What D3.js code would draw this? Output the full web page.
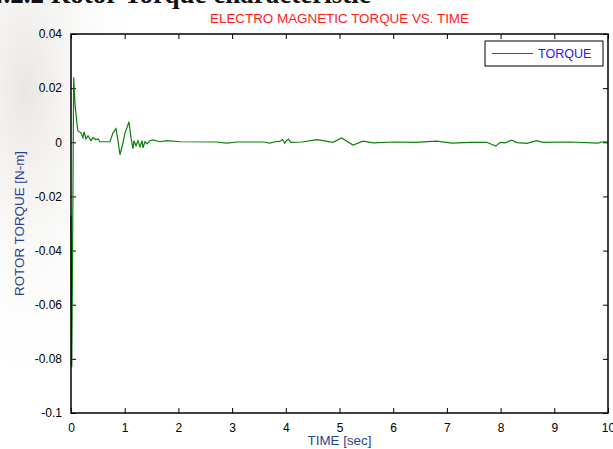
<!DOCTYPE html>
<html>
<head>
<meta charset="utf-8">
<script src="https://cdn.jsdelivr.net/npm/d3@7"></script>
<style>
  body { margin: 0; background: #fff; }
  svg { display: block; }
  .tick text { font-family: "Liberation Sans", Arial, sans-serif; font-size: 12px; fill: #000; }
</style>
</head>
<body>
<div id="chart"></div>
<script>
"use strict";

// time [sec] and torque [N-m]
var timeValues = [0, 0.015, 0.05, 0.074, 0.112, 0.13, 0.186, 0.223, 0.242, 0.279, 0.317, 0.372, 0.41, 0.466, 0.503, 0.54,
  0.726, 0.782, 0.838, 0.875, 0.912, 0.968, 1.006, 1.043, 1.08, 1.117, 1.155, 1.173, 1.21, 1.248, 1.285, 1.322, 1.341,
  1.378, 1.415, 1.471, 1.527, 1.657, 1.788, 2.03, 2.7, 2.9, 3.1, 3.6, 3.7, 3.8, 3.89, 3.94, 3.98, 4.01, 4.05, 4.09, 4.3,
  4.58, 4.88, 5.04, 5.25, 5.44, 5.63, 6.0, 6.4, 6.81, 7.1, 7.43, 7.74, 7.91, 7.99, 8.08, 8.21, 8.3, 8.49, 8.67, 8.79,
  9.3, 9.81, 9.91, 10];
var torqueValues = [-0.027, -0.083, 0.024, 0.0142, 0.0068, 0.0042, 0.0035, 0.0017, 0.0039, 0.0013, 0.0024, 0.0006, 0.0017,
  0.0009, 0.0013, 0.0002, 0.0002, 0.0035, 0.005, 0.0006, -0.0046, -0.0002, 0.0035, 0.0054, 0.0076, 0.0017, -0.0024,
  0.0006, -0.0013, 0.0006, -0.0017, 0.0006, -0.002, 0.0002, -0.0006, 0.0006, 0.0009, 0.0002, 0.0006, 0.0002, 0.0001,
  -0.0003, 0.0001, 0.0001, -0.0003, 0.0002, 0.0003, 0.001, -0.0004, 0.0006, 0.0012, 0, 0.0001, 0.001, 0, 0.0016, -0.001,
  0.0004, -0.0002, 0.0001, 0, 0.0004, -0.0003, 0, 0, -0.0014, 0, -0.0002, 0.0008, -0.0001, -0.0004, 0.0006, 0,
  0.0001, -0.0003, 0.0002, 0.0001];

var xTicks = [0, 1, 2, 3, 4, 5, 6, 7, 8, 9, 10];
var yTicks = [0.04, 0.02, 0, -0.02, -0.04, -0.06, -0.08, -0.1];

var width = 613, height = 449;
var margin = {top: 34, right: 5, bottom: 36, left: 71};
var plotW = width - margin.left - margin.right,
    plotH = height - margin.top - margin.bottom;

var svg = d3.select("#chart").append("svg")
  .attr("width", width)
  .attr("height", height);

// faint page background behind the figure (scanned look on the left)
var defs = svg.append("defs");
var grad = defs.append("radialGradient").attr("id", "bgfade")
  .attr("cx", 0.15).attr("cy", 0.2).attr("r", 0.7);
grad.append("stop").attr("offset", "0%").attr("stop-color", "#e9e7e3");
grad.append("stop").attr("offset", "100%").attr("stop-color", "#ffffff").attr("stop-opacity", 0);
svg.append("rect").attr("x", 0).attr("y", 0).attr("width", 170).attr("height", height).attr("fill", "url(#bgfade)");

// heading of the page, mostly cut off at the top
svg.append("text")
  .attr("x", -10).attr("y", 3)
  .style("font-family", "'Liberation Serif', 'Times New Roman', serif")
  .style("font-weight", "bold")
  .style("font-size", "27px")
  .attr("fill", "#111")
  .text("4.2.2 Rotor Torque characteristic");

var g = svg.append("g").attr("transform", "translate(" + margin.left + "," + margin.top + ")");

var x = d3.scaleLinear().domain([0, 10]).range([0, plotW]);
var y = d3.scaleLinear().domain([-0.1, 0.04]).range([plotH, 0]);

g.append("rect").attr("width", plotW).attr("height", plotH).attr("fill", "#fff");

// plain hyphen for negatives, as in the picture
var fmtY = function(d) { return String(+d.toFixed(2)); };

// axes with ticks pointing inward, on all four sides
g.append("g").attr("transform", "translate(0," + plotH + ")")
  .call(d3.axisBottom(x).tickValues(xTicks).tickSizeInner(-5).tickSizeOuter(0).tickPadding(10).tickFormat(d3.format("d")));
g.append("g")
  .call(d3.axisTop(x).tickValues(xTicks).tickSizeInner(-5).tickSizeOuter(0).tickFormat(""));
g.append("g")
  .call(d3.axisLeft(y).tickValues(yTicks).tickSizeInner(-5).tickSizeOuter(0).tickPadding(9).tickFormat(fmtY));
g.append("g").attr("transform", "translate(" + plotW + ",0)")
  .call(d3.axisRight(y).tickValues(yTicks).tickSizeInner(-5).tickSizeOuter(0).tickFormat(""));
g.selectAll(".domain").remove();
g.selectAll(".tick line").attr("stroke", "#000");

var line = d3.line()
  .x(function(d, i) { return x(timeValues[i]); })
  .y(function(d) { return y(d); });

g.append("path")
  .datum(torqueValues)
  .attr("fill", "none")
  .attr("stroke", "#0a800a")
  .attr("stroke-width", 1.2)
  .attr("d", line);

// frame
g.append("rect").attr("width", plotW).attr("height", plotH)
  .attr("fill", "none").attr("stroke", "#000").attr("stroke-width", 1.5);

// legend
var lg = g.append("g").attr("transform", "translate(" + (plotW - 123) + ",7)");
lg.append("rect").attr("width", 118).attr("height", 25)
  .attr("fill", "#fff").attr("stroke", "#000").attr("stroke-width", 1);
lg.append("line").attr("x1", 7).attr("x2", 48).attr("y1", 12.5).attr("y2", 12.5)
  .attr("stroke", "#0a800a").attr("stroke-width", 1.2);
lg.append("text").attr("x", 53).attr("y", 17)
  .style("font-family", "'Liberation Sans', Arial, sans-serif").style("font-size", "12.5px")
  .attr("fill", "#2020ff").text("TORQUE");

// titles
svg.append("text")
  .attr("x", margin.left + plotW / 2).attr("y", 23)
  .attr("text-anchor", "middle")
  .style("font-family", "'Liberation Sans', Arial, sans-serif").style("font-size", "13.4px")
  .attr("fill", "#ff1a1a")
  .text("ELECTRO MAGNETIC TORQUE VS. TIME");

svg.append("text")
  .attr("x", margin.left + plotW / 2).attr("y", 445)
  .attr("text-anchor", "middle")
  .style("font-family", "'Liberation Sans', Arial, sans-serif").style("font-size", "13.4px")
  .attr("fill", "#2b3f8c")
  .text("TIME [sec]");

svg.append("text")
  .attr("transform", "translate(24," + (margin.top + plotH / 2) + ") rotate(-90)")
  .attr("text-anchor", "middle")
  .style("font-family", "'Liberation Sans', Arial, sans-serif").style("font-size", "13.4px")
  .attr("fill", "#2b3f8c")
  .text("ROTOR TORQUE [N-m]");
</script>
</body>
</html>
